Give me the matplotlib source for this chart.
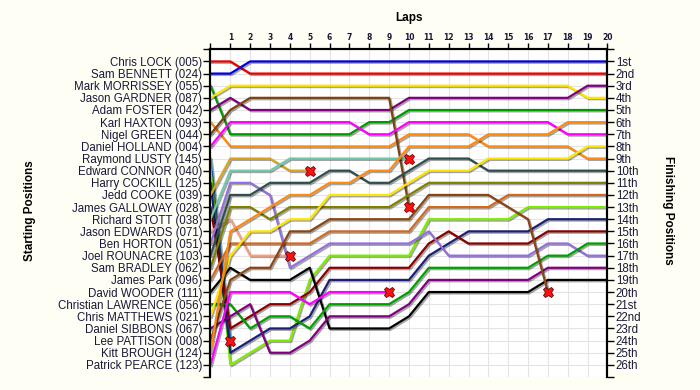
import matplotlib
matplotlib.use("Agg")
import matplotlib.pyplot as plt
import matplotlib.patheffects as pe

# drivers in starting order
drivers = ["Chris LOCK (005)", "Sam BENNETT (024)", "Mark MORRISSEY (055)", "Jason GARDNER (087)",
           "Adam FOSTER (042)", "Karl HAXTON (093)", "Nigel GREEN (044)", "Daniel HOLLAND (004)",
           "Raymond LUSTY (145)", "Edward CONNOR (040)", "Harry COCKILL (125)", "Jedd COOKE (039)",
           "James GALLOWAY (028)", "Richard STOTT (038)", "Jason EDWARDS (071)", "Ben HORTON (051)",
           "Joel ROUNACRE (103)", "Sam BRADLEY (062)", "James Park (096)", "David WOODER (111)",
           "Christian LAWRENCE (056)", "Chris MATTHEWS (021)", "Daniel SIBBONS (067)",
           "Lee PATTISON (008)", "Kitt BROUGH (124)", "Patrick PEARCE (123)"]

finish_labels = ["1st", "2nd", "3rd", "4th", "5th", "6th", "7th", "8th", "9th", "10th",
                 "11th", "12th", "13th", "14th", "15th", "16th", "17th", "18th", "19th", "20th",
                 "21st", "22nd", "23rd", "24th", "25th", "26th"]

lap_labels = ["", "1", "2", "3", "4", "5", "6", "7", "8", "9", "10",
              "11", "12", "13", "14", "15", "16", "17", "18", "19", "20"]

# position at each lap (lap 0 = grid); short list = retired on last lap given
lock      = [1, 1, 2, 2, 2, 2, 2, 2, 2, 2, 2, 2, 2, 2, 2, 2, 2, 2, 2, 2, 2]
bennett   = [2, 2, 1, 1, 1, 1, 1, 1, 1, 1, 1, 1, 1, 1, 1, 1, 1, 1, 1, 1, 1]
morrissey = [3, 7, 7, 7, 7, 7, 7, 7, 6, 6, 5, 5, 5, 5, 5, 5, 5, 5, 5, 5, 5]
gardner   = [4, 3, 3, 3, 3, 3, 3, 3, 3, 3, 3, 3, 3, 3, 3, 3, 3, 3, 3, 4, 4]
foster    = [5, 4, 5, 5, 5, 5, 5, 5, 5, 5, 4, 4, 4, 4, 4, 4, 4, 4, 4, 3, 3]
haxton    = [6, 8, 8, 8, 8, 8, 8, 8, 8, 8, 7, 7, 7, 7, 8, 8, 8, 8, 8, 9, 9]
green     = [7, 5, 4, 4, 4, 4, 4, 4, 4, 4, 13]
holland   = [8, 6, 6, 6, 6, 6, 6, 6, 7, 7, 6, 6, 6, 6, 6, 6, 6, 6, 7, 7, 7]
lusty     = [9, 24]
connor    = [10, 26, 25, 24, 24, 19, 17, 17, 17, 17, 17, 14, 14, 14, 14, 14, 13, 13, 13, 13, 13]
cockill   = [11, 25, 24, 23, 23, 22, 19, 19, 19, 19, 19, 17, 16, 15, 15, 15, 15, 14, 14, 14, 14]
cooke     = [12, 9, 9, 9, 10, 10]
galloway  = [13, 23, 22, 21, 21, 20, 18, 18, 18, 18, 18, 16, 15, 16, 16, 16, 16, 15, 15, 15, 15]
stott     = [14, 10, 10, 10, 9, 9, 9, 9, 9, 9, 9]
edwards   = [15, 14, 17, 17, 17]
horton    = [16, 11, 11, 12, 18, 17, 16, 16, 16, 16, 16, 15, 17, 17, 17, 17, 17, 16, 16, 17, 17]
rounacre  = [17, 12, 12, 11, 11, 11, 10, 10, 11, 11, 10, 9, 9, 9, 10, 10, 10, 10, 10, 10, 10]
bradley   = [18, 13, 13, 14, 13, 13, 13, 13, 13, 13, 12, 11, 11, 11, 11, 11, 11, 11, 11, 11, 11]
park      = [19, 16, 16, 16, 16, 16, 15, 15, 15, 15, 15, 13, 13, 13, 13, 12, 12, 12, 12, 12, 12]
wooder    = [20, 18, 19, 19, 19, 18, 23, 23, 23, 23, 22, 20, 20, 20, 20, 20, 20, 19, 19, 19, 19]
lawrence  = [21, 21, 23, 22, 22, 23, 21, 21, 21, 21, 20, 18, 18, 18, 18, 18, 18, 17, 17, 16, 16]
matthews  = [22, 17, 15, 15, 14, 14, 12, 12, 12, 12, 11, 10, 10, 10, 9, 9, 9, 9, 9, 8, 8]
sibbons   = [23, 22, 21, 25, 25, 24, 22, 22, 22, 22, 21, 19, 19, 19, 19, 19, 19, 18, 18, 18, 18]
pattison  = [24, 19, 18, 18, 15, 15, 14, 14, 14, 14, 14, 12, 12, 12, 12, 13, 14, 20]
brough    = [25, 15, 14, 13, 12, 12, 11, 11, 10, 10, 8, 8, 8, 8, 7, 7, 7, 7, 6, 6, 6]
pearce    = [26, 20, 20, 20, 20, 21, 20, 20, 20, 20]

series = [lock, bennett, morrissey, gardner, foster, haxton, green, holland, lusty, connor,
          cockill, cooke, galloway, stott, edwards, horton, rounacre, bradley, park, wooder,
          lawrence, matthews, sibbons, pattison, brough, pearce]

colors = ["#ee0000", "#0000dd", "#009900", "#ffe600", "#800080", "#ff8a10", "#7a4310", "#ff00ff",
          "#2a8fd8", "#7ced00", "#1c1f78", "#d8a520", "#8b0000", "#6fc9aa", "#f8a080", "#9370db",
          "#2f4f4f", "#808000", "#d2691e", "#000000", "#00a000", "#ffe600", "#800080", "#8b4513",
          "#ff8a10", "#ff00ff"]

txt = "#18183a"
fig = plt.figure(figsize=(7, 3.9), dpi=100, facecolor="#fefef4")
ax = fig.add_axes([0.3007, 0.0333, 0.5671, 0.8403])
ax.set_facecolor("white")

shadow = [pe.SimpleLineShadow(offset=(1, -1), shadow_color="k", alpha=0.35), pe.Normal()]
for pos, c in zip(series, colors):
    laps = list(range(len(pos)))
    ax.plot(laps, pos, color=c, lw=1.6, path_effects=shadow, zorder=3)
    if len(pos) < 21:
        ax.plot(laps[-1], pos[-1], marker="X", ms=7.5, mfc="#ff1010", mec="#700000", mew=0.6, zorder=5)

ax.set_xlim(0, 20)
ax.set_ylim(27, 0)
ax.set_xticks(range(21))
ax.set_xticklabels(lap_labels, fontsize=5.5, fontweight="bold", color=txt)
ax.xaxis.tick_top()
ax.set_yticks(range(28))
ax.set_yticklabels([""] + drivers + [""], fontsize=8.3, color=txt, family="Liberation Sans")
ax.grid(True, color="#e4e4e4", lw=0.8, zorder=0)
ax.tick_params(axis="y", length=5, width=1, color="black", pad=1)
ax.tick_params(axis="x", length=4, width=1, color="black", pad=1)

ax2 = ax.twinx()
ax2.set_ylim(27, 0)
ax2.set_yticks(range(28))
ax2.set_yticklabels([""] + finish_labels + [""], fontsize=8.3, color=txt, family="Liberation Sans")
ax2.tick_params(axis="y", length=5, width=1, color="black", pad=1)

for a in (ax, ax2):
    a.spines["bottom"].set_visible(False)
    for s in ("left", "right", "top"):
        a.spines[s].set_linewidth(1.5)

fig.text(0.584, 0.954, "Laps", ha="center", va="center", fontsize=8.5, fontweight="bold",
         family="Liberation Sans")
fig.text(0.043, 0.46, "Starting Positions", ha="center", va="center", rotation=90,
         fontsize=8.5, fontweight="bold", family="Liberation Sans")
fig.text(0.954, 0.46, "Finishing Positions", ha="center", va="center", rotation=270,
         fontsize=8.5, fontweight="bold", family="Liberation Sans")

fig.savefig("out.png", dpi=100, facecolor=fig.get_facecolor())
